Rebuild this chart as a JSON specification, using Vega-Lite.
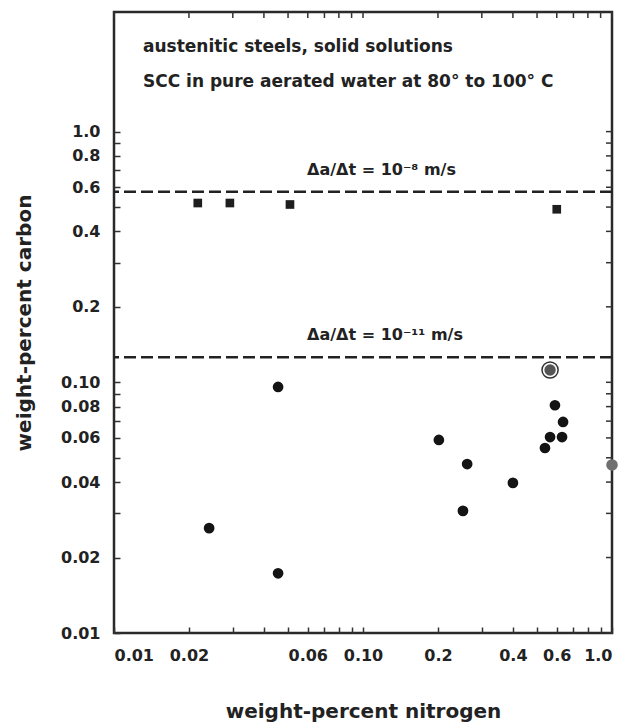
{
  "$schema": "https://vega.github.io/schema/vega-lite/v6.json",
  "width": 498,
  "height": 621,
  "autosize": {"type": "none"},
  "padding": {"left": 114, "top": 12, "right": 13, "bottom": 89},
  "background": "white",
  "config": {
    "view": {"stroke": "#2a2a2a", "strokeWidth": 2.5},
    "axis": {
      "grid": false,
      "domain": false,
      "tickSize": -6,
      "tickColor": "#333",
      "tickWidth": 1.5,
      "labelFont": "DejaVu Sans",
      "labelFontWeight": "bold",
      "labelFontSize": 16,
      "labelColor": "#222",
      "titleFont": "DejaVu Sans",
      "titleFontWeight": "bold",
      "titleFontSize": 20,
      "titleColor": "#222"
    }
  },
  "datasets": {
    "tickvals": [
      {"v": 0.01}, {"v": 0.02}, {"v": 0.03}, {"v": 0.04}, {"v": 0.05}, {"v": 0.06}, {"v": 0.07}, {"v": 0.08}, {"v": 0.09},
      {"v": 0.1}, {"v": 0.2}, {"v": 0.3}, {"v": 0.4}, {"v": 0.5}, {"v": 0.6}, {"v": 0.7}, {"v": 0.8}, {"v": 0.9}, {"v": 1.0}
    ],
    "rates": [
      {"rate": "1e-8", "c": 0.575},
      {"rate": "1e-11", "c": 0.126}
    ],
    "squares": [
      {"n": 0.0217, "c": 0.519},
      {"n": 0.0292, "c": 0.519},
      {"n": 0.0509, "c": 0.512},
      {"n": 0.6, "c": 0.49}
    ],
    "circles": [
      {"n": 0.0456, "c": 0.0958},
      {"n": 0.0241, "c": 0.0262},
      {"n": 0.0456, "c": 0.0173},
      {"n": 0.2017, "c": 0.0589},
      {"n": 0.262, "c": 0.0472},
      {"n": 0.4, "c": 0.0397},
      {"n": 0.252, "c": 0.0307},
      {"n": 0.59, "c": 0.081},
      {"n": 0.636, "c": 0.0695},
      {"n": 0.564, "c": 0.0605},
      {"n": 0.63, "c": 0.0605},
      {"n": 0.538, "c": 0.0547}
    ],
    "special": [
      {"n": 0.564, "c": 0.112}
    ],
    "edge": [
      {"n": 1.0, "c": 0.0468}
    ],
    "notes": [
      {"n": 0.01307, "c": 2.08, "label": "austenitic steels, solid solutions", "kind": "head"},
      {"n": 0.01307, "c": 1.51, "label": "SCC in pure aerated water at 80° to 100° C", "kind": "head"},
      {"n": 0.0596, "c": 0.671, "label": "Δa/Δt = 10⁻⁸ m/s", "kind": "rate"},
      {"n": 0.0596, "c": 0.1476, "label": "Δa/Δt = 10⁻¹¹ m/s", "kind": "rate"}
    ]
  },
  "layer": [
    {
      "data": {"name": "squares"},
      "mark": {"type": "square", "filled": true, "color": "#1e1e1e", "size": 75, "opacity": 1},
      "encoding": {
        "x": {"field": "n", "type": "quantitative", "scale": {"type": "log", "domain": [0.01, 1], "nice": false},
          "axis": {
            "orient": "bottom",
            "title": "weight-percent nitrogen",
            "titlePadding": 38,
            "labelPadding": 20,
            "values": [0.01,0.02,0.03,0.04,0.05,0.06,0.07,0.08,0.09,0.1,0.2,0.3,0.4,0.5,0.6,0.7,0.8,0.9,1],
            "labelExpr": "datum.value == 0.1 ? '0.10' : datum.value == 1 ? '1.0' : indexof([0.01,0.02,0.06,0.2,0.4,0.6], datum.value) >= 0 ? format(datum.value, '.2~f') : ''"
          }
        },
        "y": {"field": "c", "type": "quantitative", "scale": {"type": "log", "domain": [0.01, 3], "nice": false},
          "axis": {
            "orient": "left",
            "title": "weight-percent carbon",
            "titlePadding": 26,
            "labelPadding": 20,
            "values": [0.01,0.02,0.03,0.04,0.05,0.06,0.07,0.08,0.09,0.1,0.2,0.3,0.4,0.5,0.6,0.7,0.8,0.9,1],
            "labelExpr": "datum.value == 0.1 ? '0.10' : datum.value == 1 ? '1.0' : indexof([0.01,0.02,0.04,0.06,0.08,0.2,0.4,0.6,0.8], datum.value) >= 0 ? format(datum.value, '.2~f') : ''"
          }
        }
      }
    },
    {
      "data": {"name": "tickvals"},
      "mark": {"type": "rule", "color": "#333", "strokeWidth": 1.5},
      "encoding": {
        "x": {"field": "v", "type": "quantitative"},
        "y": {"datum": 3},
        "y2": {"datum": 2.839}
      }
    },
    {
      "data": {"name": "tickvals"},
      "mark": {"type": "rule", "color": "#333", "strokeWidth": 1.5},
      "encoding": {
        "y": {"field": "v", "type": "quantitative"},
        "x": {"datum": 1},
        "x2": {"datum": 0.946}
      }
    },
    {
      "data": {"name": "rates"},
      "mark": {"type": "rule", "strokeDash": [12, 5], "strokeWidth": 2.5, "color": "#222"},
      "encoding": {
        "y": {"field": "c", "type": "quantitative"}
      }
    },
    {
      "data": {"name": "circles"},
      "mark": {"type": "circle", "color": "#141414", "size": 115, "opacity": 1},
      "encoding": {
        "x": {"field": "n", "type": "quantitative"},
        "y": {"field": "c", "type": "quantitative"}
      }
    },
    {
      "data": {"name": "special"},
      "mark": {"type": "point", "shape": "circle", "filled": false, "stroke": "#333", "strokeWidth": 1.5, "size": 260, "opacity": 1},
      "encoding": {
        "x": {"field": "n", "type": "quantitative"},
        "y": {"field": "c", "type": "quantitative"}
      }
    },
    {
      "data": {"name": "special"},
      "mark": {"type": "circle", "color": "#555", "size": 130, "opacity": 1},
      "encoding": {
        "x": {"field": "n", "type": "quantitative"},
        "y": {"field": "c", "type": "quantitative"}
      }
    },
    {
      "data": {"name": "edge"},
      "mark": {"type": "circle", "color": "#707070", "size": 135, "opacity": 1},
      "encoding": {
        "x": {"field": "n", "type": "quantitative"},
        "y": {"field": "c", "type": "quantitative"}
      }
    },
    {
      "data": {"name": "notes"},
      "mark": {"type": "text", "align": "left", "baseline": "alphabetic", "font": "DejaVu Sans", "fontWeight": "bold", "color": "#222"},
      "encoding": {
        "x": {"field": "n", "type": "quantitative"},
        "y": {"field": "c", "type": "quantitative"},
        "text": {"field": "label"},
        "size": {"field": "kind", "type": "nominal", "scale": {"domain": ["head", "rate"], "range": [17, 16]}, "legend": null}
      }
    }
  ]
}
